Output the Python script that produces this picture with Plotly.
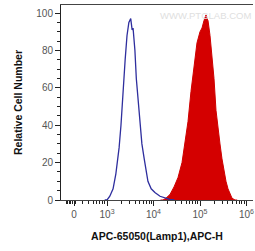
import math
import plotly.graph_objects as go

# x values are in decade units (log10 of fluorescence on a logicle-like display)
blue_x = [2.95, 3.0, 3.06, 3.13, 3.19, 3.26, 3.30, 3.34, 3.39, 3.43, 3.47, 3.51, 3.54, 3.56,
          3.60, 3.63, 3.67, 3.71, 3.75, 3.80, 3.84, 3.88, 3.95, 4.03, 4.14, 4.25, 4.35, 4.45]
blue_y = [0, 0, 2, 6, 14, 28, 40, 58, 75, 88, 95, 97, 91, 92,
          80, 65, 53, 40, 30, 22, 15, 10, 6, 4, 2, 1, 0.3, 0]

red_x = [4.15, 4.204, 4.269, 4.355, 4.441, 4.527, 4.613, 4.677, 4.742, 4.806, 4.871, 4.935, 5.0,
         5.043, 5.086, 5.129, 5.151, 5.172, 5.215, 5.258, 5.301, 5.344, 5.387, 5.430, 5.473,
         5.516, 5.559, 5.602, 5.645, 5.688, 5.753, 5.8]
red_y = [0, 0, 1, 3, 7, 12, 20, 30, 42, 58, 72, 84, 90,
         92, 96, 99, 97, 96, 88, 78, 65, 48, 38, 30, 22,
         15, 10, 6, 3, 1, 0, 0]

x_tickvals = [2.29, 3, 4, 5, 6]
x_ticktext = ["0", "10<sup>3</sup>", "10<sup>4</sup>", "10<sup>5</sup>", "10<sup>6</sup>"]
x_minor = [2.13, 2.16, 2.19, 2.22, 2.25, 2.32, 2.48, 2.60, 2.70, 2.778, 2.845, 2.90, 2.954]
for k in (3, 4, 5):
    for m in range(2, 10):
        x_minor.append(k + math.log10(m))

y_tickvals = [0, 20, 40, 60, 80, 100]

fig = go.Figure()
fig.add_trace(go.Scatter(x=red_x, y=red_y, mode="lines", fill="tozeroy",
                         line=dict(color="#d00000", width=1), fillcolor="#d40000"))
fig.add_trace(go.Scatter(x=blue_x, y=blue_y, mode="lines",
                         line=dict(color="#2e2e9e", width=1.3)))

fig.update_layout(
    width=255, height=251,
    margin=dict(l=61, r=2, t=5, b=51),
    paper_bgcolor="white", plot_bgcolor="white",
    showlegend=False,
    font=dict(family="Liberation Sans, Arial, sans-serif", size=10, color="#555"),
    annotations=[dict(text="WWW.PTGLAB.COM", x=1.0, y=0.985, xref="paper", yref="paper",
                      xanchor="right", yanchor="top", showarrow=False,
                      font=dict(size=9.5, color="#e0e0e0"))],
)
fig.update_xaxes(
    range=[2.01, 6.14], tickmode="array", tickvals=x_tickvals, ticktext=x_ticktext,
    showgrid=False, zeroline=False, showline=True, linecolor="#444", linewidth=1,
    mirror=True, ticks="outside", ticklen=5, tickcolor="#222",
    tickfont=dict(size=10, color="#555"),
    minor=dict(tickvals=x_minor, ticks="outside", ticklen=3, tickcolor="#222"),
    title=dict(text="<b>APC-65050(Lamp1),APC-H</b>", standoff=13,
               font=dict(size=10.5, color="#111")),
)
fig.update_yaxes(
    range=[0, 104.3], tickmode="array", tickvals=y_tickvals,
    showgrid=False, zeroline=False, showline=True, linecolor="#222", linewidth=1,
    ticks="outside", ticklen=5, tickcolor="#222",
    tickfont=dict(size=10, color="#555"),
    minor=dict(dtick=5, ticks="outside", ticklen=3, tickcolor="#222"),
    title=dict(text="<b>Relative Cell Number</b>", standoff=11,
               font=dict(size=10.5, color="#111")),
)
fig.write_html("out.html", config={"displayModeBar": False},
               post_script="document.body.style.margin='0';")
